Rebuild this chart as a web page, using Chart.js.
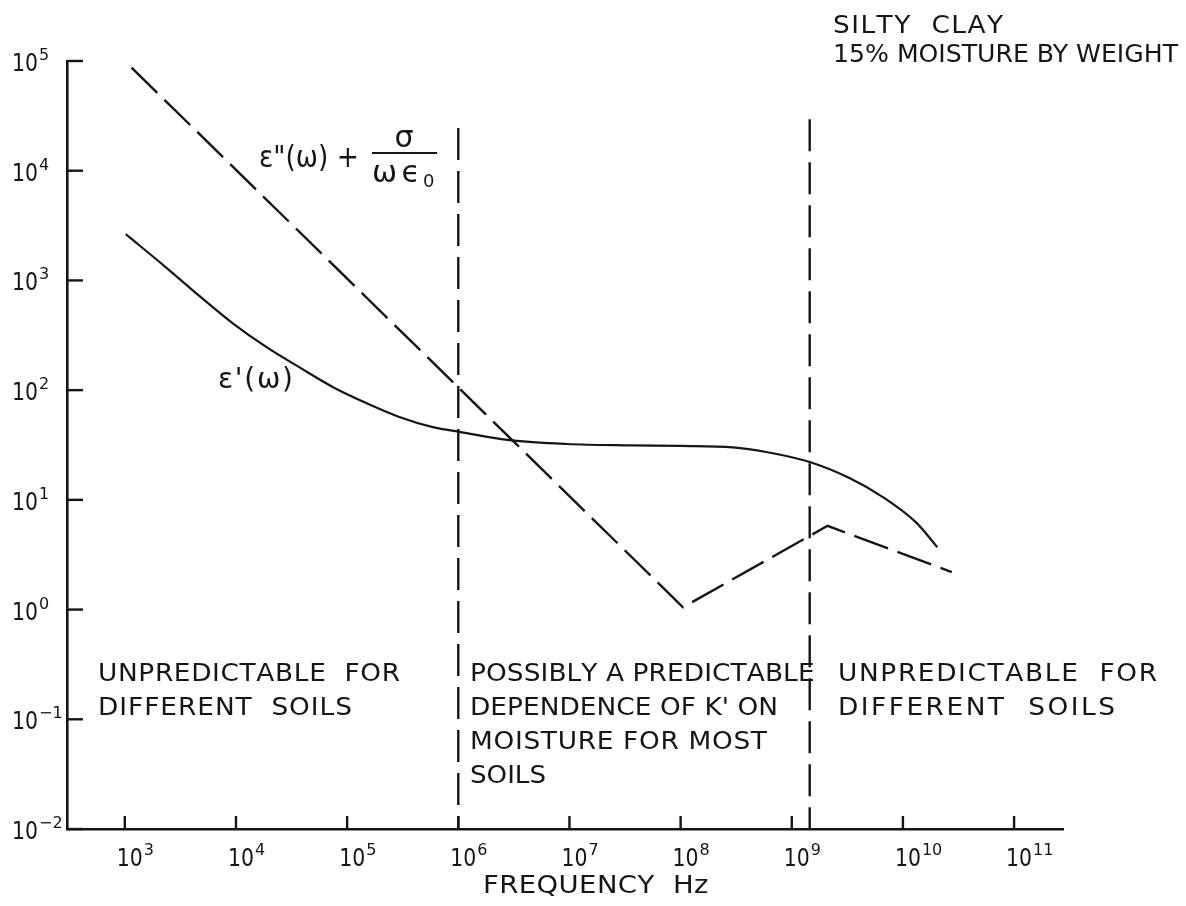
<!DOCTYPE html>
<html>
<head>
<meta charset="utf-8">
<title>Silty clay permittivity vs frequency</title>
<script src="https://cdn.jsdelivr.net/npm/chart.js@4.4.1/dist/chart.umd.min.js"></script>
<style>
  html, body { margin: 0; padding: 0; background: #fff; }
  canvas { display: block; }
</style>
</head>
<body>
<canvas id="chart" width="1186" height="906"></canvas>
<script>
// ε'(ω) — real part of the permittivity (solid curve)
const realFreqHz = [1.02e3, 2.4e3, 4.8e3, 9.3e3, 1.9e4, 3.7e4, 7.4e4, 1.5e5, 2.95e5, 5.9e5,
                    1.05e6, 2.9e6, 9.5e6, 3.7e7, 1.0e8, 2.95e8, 5.9e8, 1.45e9, 3.3e9, 6.6e9, 1.32e10, 2.04e10];
const realPermittivity = [2640, 1290, 708, 409, 245, 162, 107, 76, 57, 46,
                          41.5, 35, 32.3, 31.4, 31.0, 30.1, 27.3, 22.1, 15.8, 10.6, 6.2, 3.7];

// ε''(ω) + σ/(ωε0) — loss term (dashed curve)
const lossFreqHz = [1.15e3, 1.05e8, 2.1e9, 2.75e10];
const lossValue = [8.7e4, 1.05, 5.8, 2.2];

// Frequency boundaries between the three regions (dashed verticals)
const boundaryFreqHz = [1.0e6, 1.45e9];
const boundaryTop = [2.45e4, 2.95e4];

// Decade tick exponents
const xTickExponents = [3, 4, 5, 6, 7, 8, 9, 10, 11];
const yTickExponents = [-2, -1, 0, 1, 2, 3, 4, 5];

// Region notes
const regionLeft = ['UNPREDICTABLE  FOR', 'DIFFERENT  SOILS'];
const regionMiddle = ['POSSIBLY A PREDICTABLE', "DEPENDENCE OF K' ON", 'MOISTURE FOR MOST', 'SOILS'];
const regionRight = ['UNPREDICTABLE  FOR', 'DIFFERENT  SOILS'];
const headerLines = ['SILTY  CLAY', '15% MOISTURE BY WEIGHT'];
const xAxisTitle = 'FREQUENCY  Hz';

const X_MIN = Math.pow(10, 2.48);
const X_MAX = Math.pow(10, 11.44);
const Y_MIN = 1e-2;
const Y_MAX = 1e5;

const INK = '#151515';
const FONT = '"DejaVu Sans", "Liberation Sans", sans-serif';

function pairs(xs, ys) {
  return xs.map((x, i) => ({ x: x, y: ys[i] }));
}

// Draw a line of text spanning the given width. Glyphs may be widened by
// `stretch`; any remaining room becomes letter spacing, and a line that is
// still too wide is squeezed horizontally.
function fitText(ctx, text, x, y, width, stretch) {
  const s = stretch || 1;
  const chars = Array.from(text);
  const natural = ctx.measureText(text).width * s;
  if (!width) { ctx.fillText(text, x, y); return; }
  if (natural > width) {
    ctx.save();
    ctx.translate(x, y);
    ctx.scale(width / (natural / s), 1);
    ctx.fillText(text, 0, 0);
    ctx.restore();
    return;
  }
  const extra = chars.length > 1 ? (width - natural) / (chars.length - 1) : 0;
  let cx = x;
  for (const ch of chars) {
    ctx.save();
    ctx.translate(cx, y);
    ctx.scale(s, 1);
    ctx.fillText(ch, 0, 0);
    ctx.restore();
    cx += ctx.measureText(ch).width * s + extra;
  }
}

function drawPower(ctx, x, y, exp, baseSize, supSize, supRise) {
  ctx.font = baseSize + 'px ' + FONT;
  const baseW = 26;
  fitText(ctx, '10', x, y, baseW);
  ctx.font = supSize + 'px ' + FONT;
  ctx.fillText(String(exp).replace('-', '\u2212'), x + baseW + 1, y - supRise);
}

const whiteBackground = {
  id: 'whiteBackground',
  beforeDraw(chart) {
    const ctx = chart.ctx;
    ctx.save();
    ctx.fillStyle = '#ffffff';
    ctx.fillRect(0, 0, chart.width, chart.height);
    ctx.restore();
  }
};

const paperAnnotations = {
  id: 'paperAnnotations',
  afterDraw(chart) {
    const ctx = chart.ctx;
    const xs = chart.scales.x;
    const ys = chart.scales.y;
    const area = chart.chartArea;
    ctx.save();
    ctx.strokeStyle = INK;
    ctx.fillStyle = INK;
    ctx.lineWidth = 2.4;
    ctx.textBaseline = 'alphabetic';
    ctx.textAlign = 'left';

    // inward tick marks with decade labels
    yTickExponents.forEach(e => {
      const py = ys.getPixelForValue(Math.pow(10, e));
      ctx.beginPath();
      ctx.moveTo(area.left, py);
      ctx.lineTo(area.left + 16, py);
      ctx.stroke();
      drawPower(ctx, 12, py + 10, e, 25, 16, 11);
    });
    xTickExponents.forEach(e => {
      const px = xs.getPixelForValue(Math.pow(10, e));
      ctx.beginPath();
      ctx.moveTo(px, area.bottom);
      ctx.lineTo(px, area.bottom - 13);
      ctx.stroke();
      drawPower(ctx, px - 8, 866, e, 25, 16, 11);
    });

    const STRETCH = 1.1;

    // axis title
    ctx.font = '25px ' + FONT;
    fitText(ctx, xAxisTitle, 483, 893, 225, STRETCH);

    // header
    ctx.font = '24px ' + FONT;
    fitText(ctx, headerLines[0], 833, 33, 165, STRETCH);
    fitText(ctx, headerLines[1], 833, 62, 345, STRETCH);

    // region notes
    ctx.font = '24px ' + FONT;
    const lineGap = 34;
    const leftW = [300, 254];
    regionLeft.forEach((t, i) => fitText(ctx, t, 98, 681 + i * lineGap, leftW[i], STRETCH));
    const midW = [339, 308, 297, 76];
    regionMiddle.forEach((t, i) => fitText(ctx, t, 470, 681 + i * lineGap, midW[i], STRETCH));
    const rightW = [317, 277];
    regionRight.forEach((t, i) => fitText(ctx, t, 838, 681 + i * lineGap, rightW[i], STRETCH));

    // loss-term label: ε"(ω) + σ / (ω ε0)
    ctx.font = '30px ' + FONT;
    fitText(ctx, '\u03b5"(\u03c9) +', 259, 167, 100);
    const sigW = ctx.measureText('\u03c3').width;
    ctx.fillText('\u03c3', 404 - sigW / 2, 147);
    ctx.lineWidth = 2;
    ctx.beginPath();
    ctx.moveTo(372, 153);
    ctx.lineTo(437, 153);
    ctx.stroke();
    ctx.font = '30px ' + FONT;
    fitText(ctx, '\u03c9\u03f5', 372, 182, 48);
    ctx.font = '18px ' + FONT;
    ctx.fillText('0', 423, 187);

    // real-part label: ε'(ω)
    ctx.font = '28px ' + FONT;
    fitText(ctx, "\u03b5'(\u03c9)", 218, 388, 75);

    ctx.restore();
  }
};

const datasets = [
  {
    label: "\u03b5'(\u03c9)",
    data: pairs(realFreqHz, realPermittivity),
    borderColor: INK,
    borderWidth: 2.2,
    pointRadius: 0,
    cubicInterpolationMode: 'monotone',
    fill: false
  },
  {
    label: '\u03b5"(\u03c9) + \u03c3/\u03c9\u03b50',
    data: pairs(lossFreqHz, lossValue),
    borderColor: INK,
    borderWidth: 2.4,
    borderDash: [36, 10],
    pointRadius: 0,
    tension: 0,
    fill: false
  }
].concat(boundaryFreqHz.map((f, i) => ({
  label: 'boundary ' + (i + 1),
  data: [{ x: f, y: boundaryTop[i] }, { x: f, y: Y_MIN }],
  borderColor: INK,
  borderWidth: 2.4,
  borderDash: [32, 11],
  pointRadius: 0,
  tension: 0,
  fill: false
})));

new Chart(document.getElementById('chart').getContext('2d'), {
  type: 'line',
  data: { datasets: datasets },
  options: {
    responsive: false,
    animation: false,
    devicePixelRatio: 1,
    events: [],
    layout: { padding: { left: 67, right: 123, top: 61, bottom: 77 } },
    plugins: { legend: { display: false }, tooltip: { enabled: false } },
    scales: {
      x: {
        type: 'logarithmic',
        min: X_MIN,
        max: X_MAX,
        grid: { display: false, drawTicks: false },
        ticks: { display: false },
        border: { display: true, color: INK, width: 2.6 }
      },
      y: {
        type: 'logarithmic',
        min: Y_MIN,
        max: Y_MAX,
        grid: { display: false, drawTicks: false },
        ticks: { display: false },
        border: { display: true, color: INK, width: 2.6 }
      }
    }
  },
  plugins: [whiteBackground, paperAnnotations]
});
</script>
</body>
</html>
